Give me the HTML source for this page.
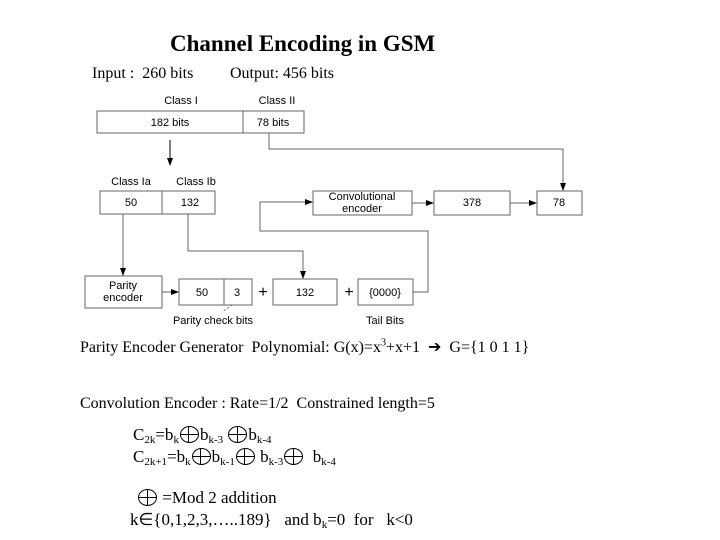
<!DOCTYPE html>
<html><head><style>
body{margin:0;width:720px;height:540px;background:#fff;overflow:hidden;position:relative;font-family:"Liberation Serif",serif;}
.t{position:absolute;white-space:nowrap;color:#000;}
sub{font-size:11px;vertical-align:-3px;line-height:0}
sup{font-size:10px;line-height:0}
.ox{display:inline-block;width:19px;height:17px;border:1.5px solid #000;border-radius:50%;position:relative;vertical-align:-3px;box-sizing:border-box;margin:0 1px}
.ox:before{content:"";position:absolute;left:0;right:0;top:7px;border-top:1.5px solid #000}
.ox:after{content:"";position:absolute;top:0;bottom:0;left:7.5px;border-left:1.5px solid #000}
</style></head><body>
<div class="t" style="left:170px;top:31px;font-size:23px;font-weight:bold;">Channel Encoding in GSM</div>
<div class="t" style="left:92px;top:65px;font-size:16px;">Input :&nbsp; 260 bits</div>
<div class="t" style="left:230px;top:65px;font-size:16px;">Output: 456 bits</div>
<svg width="720" height="540" style="position:absolute;left:0;top:0" font-family="Liberation Sans, sans-serif" font-size="11">
<defs><marker id="a" markerWidth="8" markerHeight="8" refX="7" refY="4" orient="auto" markerUnits="userSpaceOnUse"><path d="M0,1 L8,4 L0,7z" fill="#000"/></marker></defs>
<g fill="none" stroke="#666" stroke-width="1">
<rect x="97" y="111" width="207" height="22"/><line x1="243" y1="111" x2="243" y2="133"/>
<rect x="100" y="191" width="115" height="23"/><line x1="162" y1="191" x2="162" y2="214"/>
<rect x="313" y="191" width="99" height="24"/>
<rect x="434" y="191" width="76" height="24"/>
<rect x="537" y="191" width="45" height="24"/>
<rect x="85" y="276" width="77" height="32"/>
<rect x="179" y="279" width="73" height="26"/><line x1="224" y1="279" x2="224" y2="305"/>
<rect x="273" y="279" width="64" height="26"/>
<rect x="358" y="279" width="55" height="26"/>
<polyline points="269,133 269,149 563,149 563,190" marker-end="url(#a)"/>
<polyline points="123,214 123,275" marker-end="url(#a)"/>
<polyline points="188,214 188,251 303,251 303,278" marker-end="url(#a)"/>
<polyline points="413,292 428,292 428,231 260,231 260,202 312,202" marker-end="url(#a)"/>
<line x1="412" y1="203" x2="433" y2="203" marker-end="url(#a)"/>
<line x1="510" y1="203" x2="536" y2="203" marker-end="url(#a)"/>
<line x1="162" y1="292" x2="178" y2="292" marker-end="url(#a)"/>
<line x1="170" y1="140" x2="170" y2="165" stroke="#000" marker-end="url(#a)"/>
<line x1="232" y1="305" x2="222" y2="312" stroke-dasharray="2,2"/>
</g>
<g fill="#000" text-anchor="middle">
<text x="181" y="104">Class I</text><text x="277" y="104">Class II</text>
<text x="170" y="126">182 bits</text><text x="273" y="126">78 bits</text>
<text x="131" y="185">Class Ia</text><text x="196" y="185">Class Ib</text>
<text x="131" y="206">50</text><text x="190" y="206">132</text>
<text x="362" y="200">Convolutional</text><text x="362" y="212">encoder</text>
<text x="472" y="206">378</text><text x="559" y="206">78</text>
<text x="123" y="289">Parity</text><text x="123" y="301">encoder</text>
<text x="202" y="296">50</text><text x="237" y="296">3</text>
<text x="305" y="296">132</text><text x="385" y="296">{0000}</text>
<text x="263" y="297" font-size="16">+</text><text x="349" y="297" font-size="16">+</text>
<text x="213" y="324">Parity check bits</text><text x="385" y="324">Tail Bits</text>
</g>
</svg>
<div class="t" style="left:80px;top:337px;font-size:16px;">Parity Encoder Generator&nbsp; Polynomial: G(x)=x<sup>3</sup>+x+1 &nbsp;➔&nbsp; G={1 0 1 1}</div>
<div class="t" style="left:80px;top:395px;font-size:16px;">Convolution Encoder : Rate=1/2&nbsp; Constrained length=5</div>
<div class="t" style="left:133px;top:425px;font-size:17px;">C<sub>2k</sub>=b<sub>k</sub><span class="ox"></span>b<sub>k-3</sub> <span class="ox"></span>b<sub>k-4</sub></div>
<div class="t" style="left:133px;top:447px;font-size:17px;">C<sub>2k+1</sub>=b<sub>k</sub><span class="ox"></span>b<sub>k-1</sub><span class="ox"></span> b<sub>k-3</sub><span class="ox"></span>&nbsp; b<sub>k-4</sub></div>
<div class="t" style="left:137px;top:488px;font-size:17px;"><span class="ox"></span> =Mod 2 addition</div>
<div class="t" style="left:130px;top:510px;font-size:17px;">k∈{0,1,2,3,…..189}&nbsp;&nbsp; and b<sub>k</sub>=0&nbsp; for&nbsp;&nbsp; k&lt;0</div>
</body></html>
